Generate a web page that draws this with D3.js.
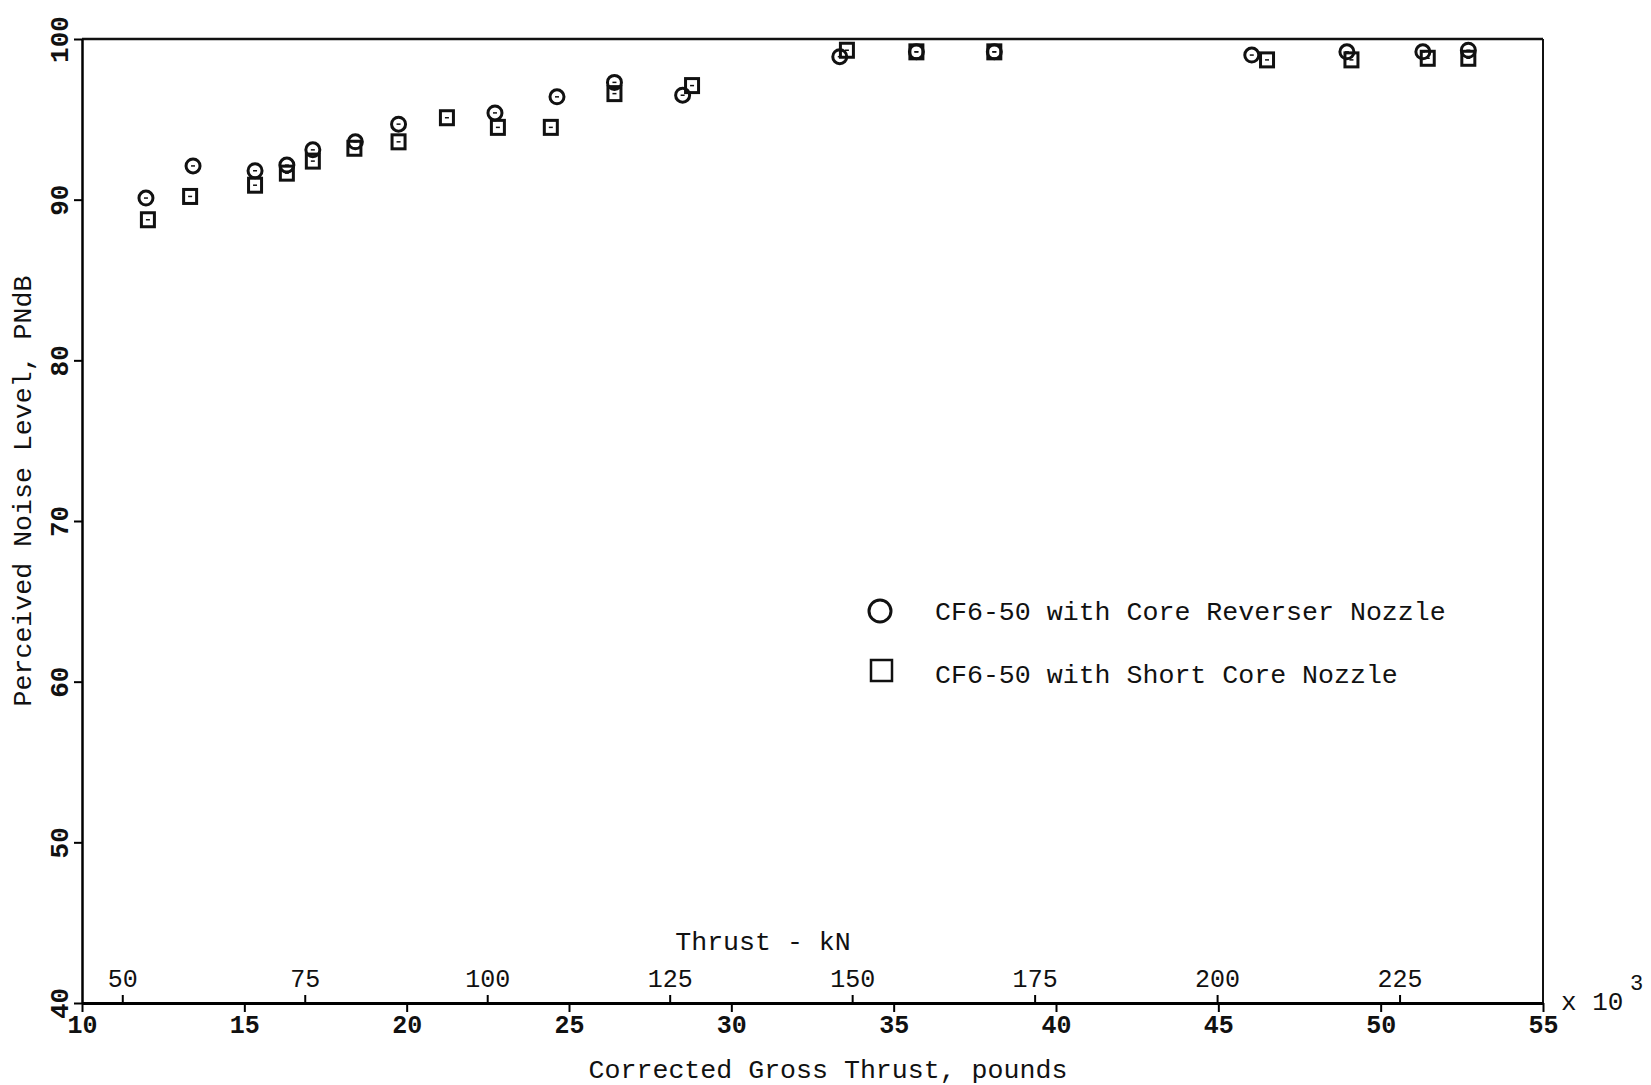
<!DOCTYPE html>
<html>
<head>
<meta charset="utf-8">
<script src="https://cdn.jsdelivr.net/npm/d3@7"></script>
<style>
  body { margin: 0; background: #fff; }
  text { font-family: "Liberation Mono", "DejaVu Sans Mono", monospace; fill: #111; }
</style>
</head>
<body>
<div id="chart"></div>
<script>
// thrust in thousands of pounds, noise in PNdB
const coreRevX = [11.97, 13.42, 15.33, 16.31, 17.11, 18.42, 19.75, 22.72, 24.63, 26.40, 28.50, 33.34, 35.70, 38.10, 46.03, 48.96, 51.30, 52.70];
const coreRevY = [90.1, 92.1, 91.8, 92.15, 93.1, 93.6, 94.7, 95.4, 96.4, 97.3, 96.5, 98.9, 99.2, 99.2, 99.0, 99.2, 99.2, 99.3];
const shortX = [12.03, 13.33, 15.33, 16.31, 17.11, 18.39, 19.75, 21.24, 22.81, 24.44, 26.40, 28.79, 33.56, 35.70, 38.10, 46.50, 49.10, 51.45, 52.70];
const shortY = [88.75, 90.2, 90.9, 91.65, 92.4, 93.2, 93.6, 95.1, 94.5, 94.5, 96.6, 97.1, 99.3, 99.2, 99.2, 98.7, 98.7, 98.8, 98.8];

const lbTicks = [10, 15, 20, 25, 30, 35, 40, 45, 50, 55];
const kNTicks = [50, 75, 100, 125, 150, 175, 200, 225];
const yTicks = [40, 50, 60, 70, 80, 90, 100];
const legendLabels = ['CF6-50 with Core Reverser Nozzle', 'CF6-50 with Short Core Nozzle'];

const LBF_PER_KN = 224.809;

const W = 1651, H = 1085;
const mLeft = 82, mRight = 1543, mTop = 39, mBottom = 1003;

const svg = d3.select('#chart').append('svg')
    .attr('width', W)
    .attr('height', H);

const x = d3.scaleLinear().domain([10, 55]).range([mLeft, mRight]);
const y = d3.scaleLinear().domain([40, 100]).range([mBottom, mTop]);
// kN scale drawn on the same baseline
const xkN = d3.scaleLinear().domain([10000 / LBF_PER_KN, 55000 / LBF_PER_KN]).range([mLeft, mRight]);

// frame (top + right)
svg.append('line').attr('x1', mLeft).attr('x2', mRight).attr('y1', mTop).attr('y2', mTop)
    .style('stroke', '#111').style('stroke-width', 2.5);
svg.append('line').attr('x1', mRight).attr('x2', mRight).attr('y1', mTop).attr('y2', mBottom)
    .style('stroke', '#111').style('stroke-width', 2);

// bottom axis, pounds
const xAxis = svg.append('g').attr('transform', `translate(0,${mBottom})`)
    .call(d3.axisBottom(x).tickValues(lbTicks).tickSize(9).tickSizeOuter(0).tickFormat(d3.format('d')));
xAxis.select('.domain').style('stroke-width', 3);
xAxis.selectAll('.tick line').style('stroke-width', 2);
xAxis.selectAll('.tick text')
    .attr('y', 11)
    .style('font-size', '25px')
    .style('font-weight', 'bold')
    .attr('dy', '0.75em');

// kN ticks on the same line, pointing up
const kAxis = svg.append('g').attr('transform', `translate(0,${mBottom})`)
    .call(d3.axisTop(xkN).tickValues(kNTicks).tickSize(8).tickSizeOuter(0));
kAxis.select('.domain').remove();
kAxis.selectAll('.tick line').style('stroke-width', 2);
kAxis.selectAll('.tick text')
    .attr('y', -16)
    .style('font-size', '25px');

// left axis
const yAxis = svg.append('g').attr('transform', `translate(${mLeft},0)`)
    .call(d3.axisLeft(y).tickValues(yTicks).tickSize(8).tickSizeOuter(0));
yAxis.select('.domain').style('stroke-width', 2.5);
yAxis.selectAll('.tick line').style('stroke-width', 2);
yAxis.selectAll('.tick text')
    .attr('x', 0).attr('dy', 0)
    .attr('transform', 'translate(-21,0) rotate(-90)')
    .attr('text-anchor', 'middle')
    .attr('dominant-baseline', 'central')
    .style('font-size', '26px')
    .style('font-weight', 'bold');

// axis titles
svg.append('text').attr('x', 828).attr('y', 1078).attr('text-anchor', 'middle')
    .style('font-size', '26.6px').text('Corrected Gross Thrust, pounds');
svg.append('text').attr('x', 763).attr('y', 950).attr('text-anchor', 'middle')
    .style('font-size', '26.6px').text('Thrust - kN');
svg.append('text').attr('transform', 'translate(31,491) rotate(-90)').attr('text-anchor', 'middle')
    .style('font-size', '26.6px').text('Perceived Noise Level, PNdB');

// x 10^3
svg.append('text').attr('x', 1561).attr('y', 1010).style('font-size', '26px').text('x 10');
svg.append('text').attr('x', 1630).attr('y', 990).style('font-size', '22px').text('3');

// markers
function drawCircle(g) {
    g.append('circle').attr('r', 7)
        .style('fill', 'none').style('stroke', '#111').style('stroke-width', 3);
    g.append('line').attr('x1', -2).attr('x2', 2).attr('y1', 0).attr('y2', 0)
        .style('stroke', '#111').style('stroke-width', 1.5);
}
function drawSquare(g) {
    g.append('rect').attr('x', -6.5).attr('y', -7).attr('width', 13).attr('height', 14)
        .style('fill', 'none').style('stroke', '#111').style('stroke-width', 3);
    g.append('line').attr('x1', -2).attr('x2', 2).attr('y1', 0).attr('y2', 0)
        .style('stroke', '#111').style('stroke-width', 1.5);
}

const crData = coreRevX.map((d, i) => ({x: d, y: coreRevY[i]}));
const scData = shortX.map((d, i) => ({x: d, y: shortY[i]}));

const sq = svg.selectAll('.sq').data(scData).enter().append('g').attr('class', 'sq')
    .attr('transform', d => `translate(${x(d.x)},${y(d.y)})`);
sq.each(function(){ drawSquare(d3.select(this)); });

const cr = svg.selectAll('.cr').data(crData).enter().append('g').attr('class', 'cr')
    .attr('transform', d => `translate(${x(d.x)},${y(d.y)})`);
cr.each(function(){ drawCircle(d3.select(this)); });

// legend
const legend = svg.append('g');
legend.append('circle').attr('cx', 880).attr('cy', 611).attr('r', 11)
    .style('fill', 'none').style('stroke', '#111').style('stroke-width', 3);
legend.append('rect').attr('x', 871).attr('y', 660).attr('width', 21).attr('height', 21)
    .style('fill', 'none').style('stroke', '#111').style('stroke-width', 2.5);
legend.selectAll('.lt').data(legendLabels).enter().append('text').attr('class', 'lt')
    .attr('x', 935).attr('y', (d, i) => 620 + i * 63)
    .style('font-size', '26.6px')
    .text(d => d);
</script>
</body>
</html>
